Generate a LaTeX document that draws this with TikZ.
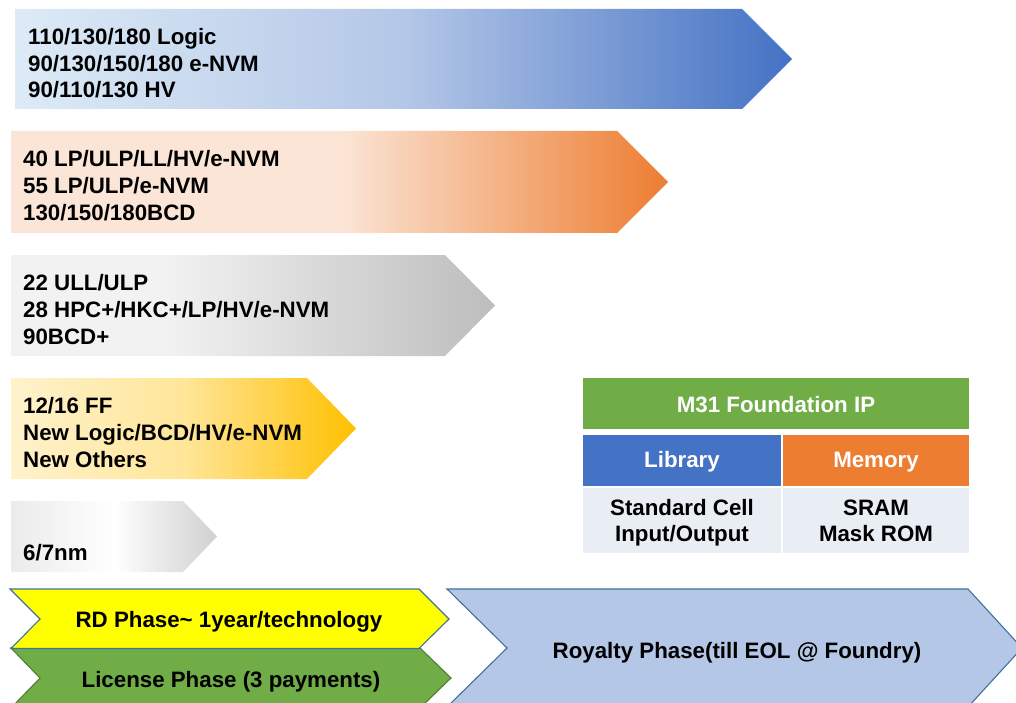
\documentclass[tikz,border=0pt]{standalone}
\usepackage{fontspec}
\setmainfont{Liberation Sans}

% palette
\definecolor{blueA}{HTML}{DDEBF7}
\definecolor{blueB}{HTML}{B4C7E7}
\definecolor{blueC}{HTML}{4472C4}
\definecolor{orangeA}{HTML}{FBE5D6}
\definecolor{orangeC}{HTML}{ED7D31}
\definecolor{greyA}{HTML}{F2F2F2}
\definecolor{greyC}{HTML}{BDBDBD}
\definecolor{goldA}{HTML}{FFF2CC}
\definecolor{goldB}{HTML}{FFE699}
\definecolor{goldC}{HTML}{FFC000}
\definecolor{paleA}{HTML}{EBEBEB}
\definecolor{paleC}{HTML}{D0D0D0}
\definecolor{ipgreen}{HTML}{70AD47}
\definecolor{libblue}{HTML}{4472C4}
\definecolor{memorange}{HTML}{ED7D31}
\definecolor{cellgrey}{HTML}{E9EDF4}
\definecolor{phaseyellow}{HTML}{FFFF00}
\definecolor{phasegreen}{HTML}{70AD47}
\definecolor{royalblue}{HTML}{B4C7E7}
\definecolor{edgeblue}{HTML}{41719C}
\definecolor{edgegreen}{HTML}{507E32}

% left-to-right fades (the path's box spans 25bp..75bp)
\pgfdeclarehorizontalshading{bluefade}{100bp}{color(0bp)=(blueA); color(25bp)=(blueA); color(50bp)=(blueB); color(75bp)=(blueC); color(100bp)=(blueC)}
\pgfdeclarehorizontalshading{orangefade}{100bp}{color(0bp)=(orangeA); color(25bp)=(orangeA); color(50bp)=(orangeA); color(75bp)=(orangeC); color(100bp)=(orangeC)}
\pgfdeclarehorizontalshading{greyfade}{100bp}{color(0bp)=(greyA); color(25bp)=(greyA); color(41bp)=(greyA); color(75bp)=(greyC); color(100bp)=(greyC)}
\pgfdeclarehorizontalshading{goldfade}{100bp}{color(0bp)=(goldA); color(25bp)=(goldA); color(50bp)=(goldB); color(75bp)=(goldC); color(100bp)=(goldC)}
\pgfdeclarehorizontalshading{palefade}{100bp}{color(0bp)=(paleA); color(25bp)=(paleA); color(50bp)=(white); color(75bp)=(paleC); color(100bp)=(paleC)}

\begin{document}
\begin{tikzpicture}[x=1pt,y=-1pt,
  label/.style={font=\fontsize{22.3}{27}\selectfont\bfseries, inner sep=0pt, anchor=base west},
  clabel/.style={font=\fontsize{22.3}{27}\selectfont\bfseries, inner sep=0pt, anchor=base},
  wlabel/.style={clabel, text=white},
  phaseedge/.style={draw=edgeblue, line width=1.1pt, line join=miter},
  greenedge/.style={draw=edgegreen, line width=1.1pt, line join=miter}]

\useasboundingbox (0,0) rectangle (1016,703);
\fill[white] (0,0) rectangle (1016,703);
\clip (0,0) rectangle (1016,703);

% process-technology arrows
\shade[shading=bluefade]   (15,9)   -- (742,9)   -- (792,59)    -- (742,109) -- (15,109) -- cycle;
\shade[shading=orangefade] (11,131) -- (617,131) -- (668,182)   -- (617,233) -- (11,233) -- cycle;
\shade[shading=greyfade]   (11,255) -- (445,255) -- (495,305.5) -- (445,356) -- (11,356) -- cycle;
\shade[shading=goldfade]   (11,378) -- (307,378) -- (356,428.5) -- (307,479) -- (11,479) -- cycle;
\shade[shading=palefade]   (11,501) -- (183,501) -- (217,536.5) -- (183,572) -- (11,572) -- cycle;

\node[label] (b1a) at (28,44.5) {110/130/180 Logic};
\node[label] (b1b) at (28,71.3) {90/130/150/180 e-NVM};
\node[label] (b1c) at (28,98)   {90/110/130 HV};

\node[label] (b2a) at (23,166.7) {40 LP/ULP/LL/HV/e-NVM};
\node[label] (b2b) at (23,193.5) {55 LP/ULP/e-NVM};
\node[label] (b2c) at (23,220.5) {130/150/180BCD};

\node[label] (b3a) at (23,290)   {22 ULL/ULP};
\node[label] (b3b) at (23,317.3) {28 HPC+/HKC+/LP/HV/e-NVM};
\node[label] (b3c) at (23,344)   {90BCD+};

\node[label] (b4a) at (23,413.3) {12/16 FF};
\node[label] (b4b) at (23,440.7) {New Logic/BCD/HV/e-NVM};
\node[label] (b4c) at (23,467.3) {New Others};

\node[label] (b5a) at (23,560) {6/7nm};

% foundation IP table
\fill[ipgreen]   (583,378)   rectangle (969,429);
\fill[libblue]   (583,435)   rectangle (781,486);
\fill[memorange] (783,435)   rectangle (969,486);
\fill[cellgrey]  (583,487.5) rectangle (781,553);
\fill[cellgrey]  (783,487.5) rectangle (969,553);

\node[wlabel] (ip)  at (776,412.7) {M31 Foundation IP};
\node[wlabel] (lib) at (682,467.3) {Library};
\node[wlabel] (mem) at (876,467.3) {Memory};
\node[clabel] (l1)  at (682,515)   {Standard Cell};
\node[clabel] (l2)  at (682,541.7) {Input/Output};
\node[clabel] (m1)  at (876,515)   {SRAM};
\node[clabel] (m2)  at (876,541.7) {Mask ROM};

% business phases
\path[fill=phasegreen, greenedge] (11,648) -- (420,648) -- (451,678) -- (420,708) -- (11,708) -- (40,678) -- cycle;
\path[fill=phaseyellow, phaseedge] (10,589) -- (419,589) -- (449,619) -- (419,648.5) -- (11,648.5) -- (40,619) -- cycle;
\path[fill=royalblue, phaseedge] (447,589) -- (968,589) -- (1022,648) -- (968,707) -- (447,707) -- (507,648) -- cycle;

\node[clabel] (rd)  at (229,627.3) {RD Phase\char`\~{} 1year/technology};
\node[clabel] (lic) at (231,687.3) {License Phase (3 payments)};
\node[clabel] (roy) at (737,658)   {Royalty Phase(till EOL @ Foundry)};
\end{tikzpicture}
\end{document}
